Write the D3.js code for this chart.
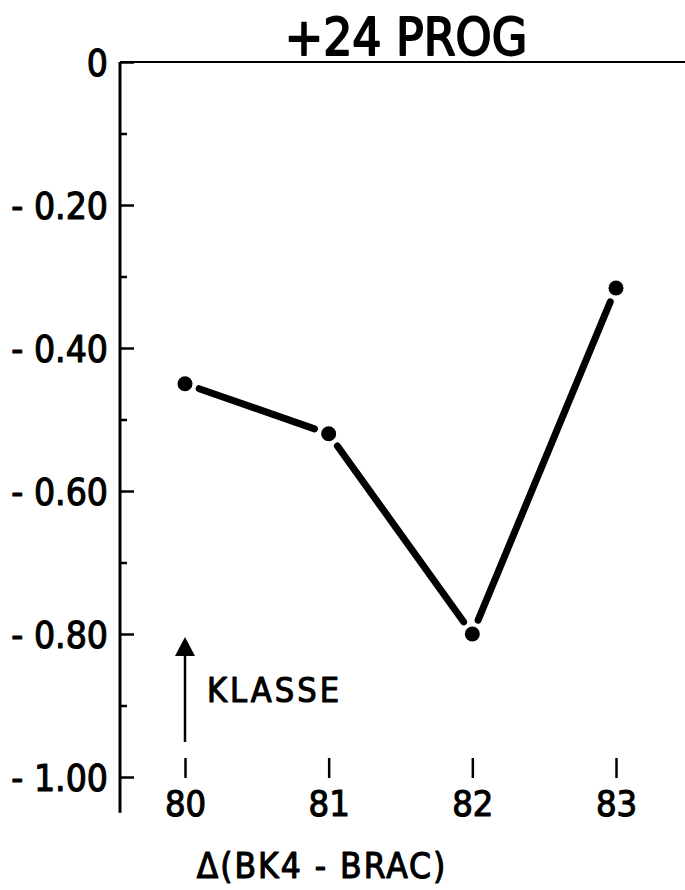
<!DOCTYPE html>
<html><head><meta charset="utf-8">
<script src="https://cdn.jsdelivr.net/npm/d3@7"></script>
<style>
html,body{margin:0;padding:0;background:#fff;}
text{font-family:"DejaVu Sans Condensed","DejaVu Sans",sans-serif;fill:#000;}
</style></head>
<body>
<svg id="c" width="685" height="890"></svg>
<script>
const categories = [80, 81, 82, 83];
const values = [-0.45, -0.52, -0.80, -0.316];
const yMajorTicks = [0, -0.2, -0.4, -0.6, -0.8, -1.0];
const yTickLabels = ["0", "- 0.20", "- 0.40", "- 0.60", "- 0.80", "- 1.00"];
const yMinorTicks = [-0.1, -0.3, -0.5, -0.7, -0.9];
const xTickLabels = ["80", "81", "82", "83"];
const title = "+24 PROG";
const xTitle = "Δ(BK4 - BRAC)";
const annotation = "KLASSE";

const FONT = '"DejaVu Sans Condensed","DejaVu Sans",sans-serif';
const svg = d3.select("#c");
const x = d3.scaleLinear().domain([80, 83]).range([185, 616]);
const y = d3.scaleLinear().domain([0, -1]).range([62, 777]);
const axisX = 120;

function heavy(sel, w) {
  sel.style("font-family", FONT).attr("stroke", "#000").attr("stroke-width", w)
    .attr("stroke-linejoin", "round").attr("fill", "#000");
}

// frame lines
svg.append("line").attr("x1", axisX).attr("x2", 685).attr("y1", y(0)).attr("y2", y(0))
  .attr("stroke", "#000").attr("stroke-width", 2);
svg.append("line").attr("x1", axisX).attr("x2", axisX).attr("y1", y(0)).attr("y2", y(-1.05))
  .attr("stroke", "#000").attr("stroke-width", 3);

// y axis major
const yAx = svg.append("g").attr("transform", `translate(${axisX},0)`)
  .call(d3.axisLeft(y).tickValues(yMajorTicks).tickSize(-14).tickPadding(12)
    .tickFormat((d, i) => yTickLabels[i]));
yAx.select(".domain").remove();
yAx.selectAll(".tick line").attr("stroke-width", 2.5);
yAx.selectAll(".tick text").style("font-size", "37px").attr("dy", "0.36em").call(heavy, 1.1);

// y axis minor
const yMin = svg.append("g").attr("transform", `translate(${axisX},0)`)
  .call(d3.axisLeft(y).tickValues(yMinorTicks).tickSize(-7).tickFormat(""));
yMin.select(".domain").remove();
yMin.selectAll(".tick line").attr("stroke-width", 2.5);

// x axis
const xAx = svg.append("g").attr("transform", `translate(0,${y(-1) + 1})`)
  .call(d3.axisBottom(x).tickValues(categories).tickSize(-20).tickPadding(12)
    .tickFormat((d, i) => xTickLabels[i]));
xAx.select(".domain").remove();
xAx.selectAll(".tick line").attr("stroke-width", 2.5);
xAx.selectAll(".tick text").style("font-size", "36px").call(heavy, 1.1);

// line segments with gaps
const pts = categories.map((c, i) => [x(c), y(values[i])]);
const gap = 15;
for (let i = 0; i < pts.length - 1; i++) {
  const [x1, y1] = pts[i], [x2, y2] = pts[i + 1];
  const L = Math.hypot(x2 - x1, y2 - y1);
  const ux = (x2 - x1) / L, uy = (y2 - y1) / L;
  svg.append("line")
    .attr("x1", x1 + ux * gap).attr("y1", y1 + uy * gap)
    .attr("x2", x2 - ux * gap).attr("y2", y2 - uy * gap)
    .attr("stroke", "#000").attr("stroke-width", 7).attr("stroke-linecap", "round");
}
svg.selectAll("circle.pt").data(pts).join("circle").attr("class", "pt")
  .attr("cx", d => d[0]).attr("cy", d => d[1]).attr("r", 7.5).attr("fill", "#000");

// title
svg.append("text").attr("x", 406).attr("y", 55).attr("text-anchor", "middle")
  .style("font-size", "51px").call(heavy, 1.8).text(title);

// x title
svg.append("text").attr("x", 322).attr("y", 878).attr("text-anchor", "middle")
  .style("font-size", "35px").attr("letter-spacing", "2").call(heavy, 1.1).text(xTitle);

// annotation arrow
const ax = x(80);
svg.append("line").attr("x1", ax).attr("x2", ax).attr("y1", 742).attr("y2", 652)
  .attr("stroke", "#000").attr("stroke-width", 2.5);
svg.append("path").attr("d", `M${ax},637 L${ax - 10},656 L${ax + 10},656 Z`).attr("fill", "#000");
svg.append("text").attr("x", 207).attr("y", 702).style("font-size", "34px")
  .attr("letter-spacing", "3").call(heavy, 1.1).text(annotation);
</script>
</body></html>
